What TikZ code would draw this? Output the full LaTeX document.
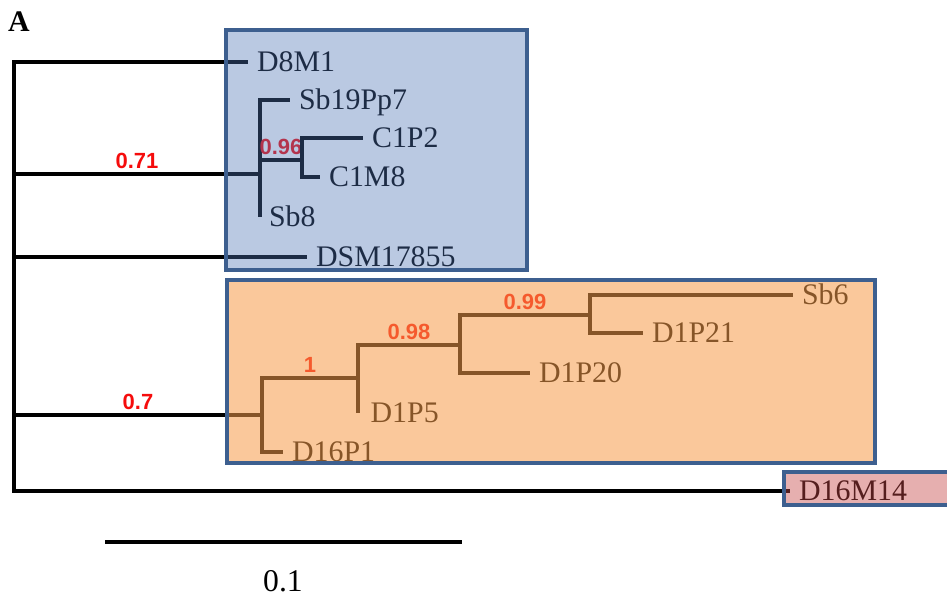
\documentclass[tikz,border=0pt]{standalone}
\usepackage{fontspec}
\setmainfont{Liberation Serif}
\newfontfamily\bootfont{Liberation Sans}
\usepackage{xcolor}
\usepackage{tikz}
\usetikzlibrary{positioning}
\definecolor{boxline}{RGB}{61,95,143}
\definecolor{bluefill}{RGB}{77,115,180}
\definecolor{orangefill}{RGB}{245,155,73}
\definecolor{pinkfill}{RGB}{198,70,70}
\definecolor{bootred}{RGB}{245,12,12}
\tikzstyle{branch} = [black, line width=2.3pt]
\tikzstyle{leaf} = [anchor=west, inner xsep=5pt, inner ysep=0pt, text height=11.3pt, text depth=0pt, font=\fontsize{17}{20}\selectfont]
\tikzstyle{boot} = [above, inner sep=2pt, text height=8.8pt, text depth=0pt, text=bootred, font=\bootfont\bfseries\fontsize{12.5}{14}\selectfont]
\tikzstyle{cladebox} = [line width=2.6pt, draw=boxline]

\begin{document}
\begin{tikzpicture}[x=0.02cm, y=-0.02cm]
\useasboundingbox (0,0) rectangle (947,601);

\node[font=\bfseries\fontsize{17}{20}\selectfont] (panel) at (19,22) {A};

% internal nodes
\coordinate (r) at (14,276);
\coordinate (cb) at (260,174);
\coordinate (c2) at (302,160);
\coordinate (co) at (262,415);
\coordinate (o2) at (358,378);
\coordinate (o3) at (460,345);
\coordinate (o4) at (590,315);

% leaves
\node[leaf] (d8m1) at (248,62) {D8M1};
\node[leaf] (sb19) at (290,100) {Sb19Pp7};
\node[leaf] (c1p2) at (363,138) {C1P2};
\node[leaf] (c1m8) at (320,177) {C1M8};
\node[leaf] (sb8) at (260,217) {Sb8};
\node[leaf] (dsm) at (307,257) {DSM17855};
\node[leaf] (sb6) at (793,295) {Sb6};
\node[leaf] (d1p21) at (643,333) {D1P21};
\node[leaf] (d1p20) at (530,373) {D1P20};
\node[leaf, inner xsep=7pt] (d1p5) at (358,413) {D1P5};
\node[leaf] (d16p1) at (283,452) {D16P1};
\node[leaf] (d16m14) at (790,491) {D16M14};

% branches
\draw[branch] (r) |- (d8m1.west);
\draw[branch] (r) |- node[boot, pos=0.75] {0.71} (cb);
\draw[branch] (r) |- (dsm.west);
\draw[branch] (r) |- node[boot, pos=0.75] {0.7} (co);
\draw[branch] (r) |- (d16m14.west);

\draw[branch] (cb) |- (sb19.west);
\draw[branch] (cb) |- node[boot, pos=0.75] {0.96} (c2);
\draw[branch] (cb) |- (sb8.west);
\draw[branch] (c2) |- (c1p2.west);
\draw[branch] (c2) |- (c1m8.west);

\draw[branch] (co) |- (d16p1.west);
\draw[branch] (co) |- node[boot, pos=0.75] {1} (o2);
\draw[branch] (o2) |- (d1p5.west);
\draw[branch] (o2) |- node[boot, pos=0.75] {0.98} (o3);
\draw[branch] (o3) |- (d1p20.west);
\draw[branch] (o3) |- node[boot, pos=0.75] {0.99} (o4);
\draw[branch] (o4) |- (sb6.west);
\draw[branch] (o4) |- (d1p21.west);

% scale bar
\coordinate (s0) at (105,542);
\coordinate (s1) at (462,542);
\draw[branch] (s0) -- (s1);
\node[font=\fontsize{18}{21}\selectfont] (scl) at (283,581) {0.1};

% clade boxes
\filldraw[cladebox, fill=bluefill, fill opacity=0.39] (226,30) rectangle (527,270);
\filldraw[cladebox, fill=orangefill, fill opacity=0.55] (227,280) rectangle (875,463);
\fill[pinkfill, fill opacity=0.43] (784,472) rectangle (947,505);
\draw[cladebox] (947,472) -- (784,472) -- (784,505) -- (947,505);
\end{tikzpicture}
\end{document}
